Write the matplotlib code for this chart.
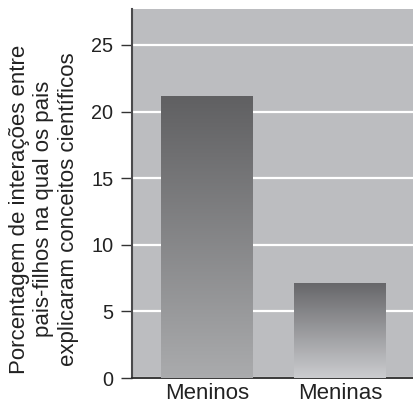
import matplotlib.pyplot as plt
import numpy as np
from matplotlib.colors import LinearSegmentedColormap

categories = ["Meninos", "Meninas"]
percentages = [21.15, 7.1]
y_ticks = [0, 5, 10, 15, 20, 25]
y_label = ("Porcentagem de interações entre\n"
           "pais-filhos na qual os pais\n"
           "explicaram conceitos científicos")

# top / bottom colours of each bar gradient
bar_gradients = [("#606062", "#aaabad"), ("#67676a", "#cbcccf")]

plt.rcParams["font.family"] = ["Liberation Sans", "DejaVu Sans"]

fig = plt.figure(figsize=(4.13, 4.08), dpi=100)
ax = fig.add_axes((132 / 413, 30 / 408, 281 / 413, 369 / 408))
ax.set_facecolor("#bcbdc0")

x = np.arange(len(categories))
bars = ax.bar(x, percentages, width=0.69, color="none", zorder=3)

for bar, (top, bottom) in zip(bars, bar_gradients):
    cmap = LinearSegmentedColormap.from_list("grad", [bottom, top])
    x0, y0 = bar.get_x(), bar.get_y()
    w, h = bar.get_width(), bar.get_height()
    grad = np.linspace(0, 1, 256).reshape(-1, 1)
    im = ax.imshow(grad, cmap=cmap, aspect="auto", origin="lower",
                   extent=(x0, x0 + w, y0, y0 + h), zorder=3)
    im.set_clip_path(bar)

ax.set_xlim(-0.565, 1.55)
ax.set_ylim(0, 27.7)
ax.set_yticks(y_ticks)
ax.set_xticks(x)
ax.set_xticklabels(categories)

ax.yaxis.grid(True, color="white", linewidth=1.6, zorder=1)
ax.set_axisbelow(True)

for side in ("top", "right"):
    ax.spines[side].set_visible(False)
ax.spines["left"].set_color("#4a4a4c")
ax.spines["left"].set_linewidth(1.5)
ax.spines["bottom"].set_color("#2a2a2a")
ax.spines["bottom"].set_linewidth(1.3)

ax.tick_params(axis="y", length=8, width=1, color="#333333",
               labelsize=14.3, pad=5.5, labelcolor="#222222")
ax.tick_params(axis="x", length=0, labelsize=16, pad=3.6, labelcolor="#222222")

ax.set_ylabel(y_label, fontsize=16, color="#222222", linespacing=1.2)
ax.yaxis.set_label_coords(-0.19, 0.457)

fig.savefig("out.png", dpi=100, facecolor="white")
